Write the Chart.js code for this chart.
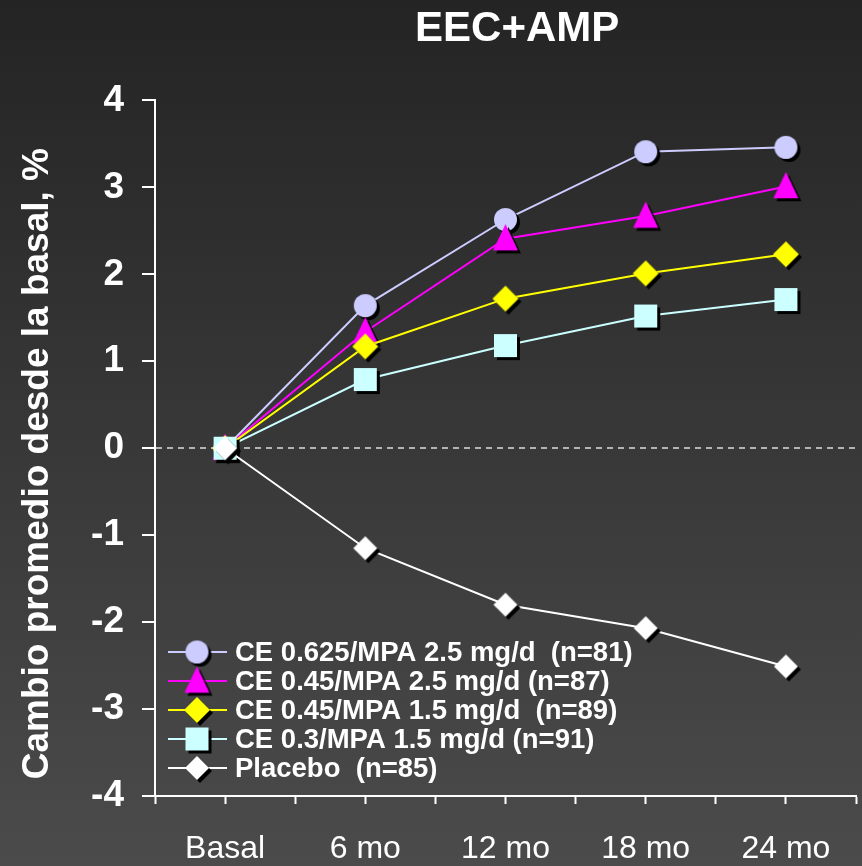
<!DOCTYPE html>
<html lang="es">
<head>
    <meta charset="UTF-8">
    <title>EEC+AMP</title>
    <script src="https://cdn.jsdelivr.net/npm/chart.js"></script>
    <style>
        html, body { margin: 0; padding: 0; background: #2e2e2e; }
        #wrap { width: 862px; height: 866px; }
    </style>
</head>
<body>
    <div id="wrap"><canvas id="grafico"></canvas></div>

    <script>
        // Datos
        const categorias = ['Basal', '6 mo', '12 mo', '18 mo', '24 mo'];
        const nombres = [
            'CE 0.625/MPA 2.5 mg/d  (n=81)',
            'CE 0.45/MPA 2.5 mg/d (n=87)',
            'CE 0.45/MPA 1.5 mg/d  (n=89)',
            'CE 0.3/MPA 1.5 mg/d (n=91)',
            'Placebo  (n=85)'
        ];
        const ce0625_25 = [0, 1.64, 2.63, 3.41, 3.46];
        const ce045_25 = [0, 1.34, 2.41, 2.67, 3.01];
        const ce045_15 = [0, 1.17, 1.72, 2.01, 2.23];
        const ce03_15 = [0, 0.79, 1.18, 1.52, 1.71];
        const placebo = [0, -1.15, -1.80, -2.07, -2.51];
        const yMin = -4, yMax = 4;

        const colores = ['#ccccff', '#ff00ff', '#ffff00', '#ccffff', '#ffffff'];
        const formas = ['circle', 'triangle', 'diamond', 'square', 'diamond'];
        const radios = [11.5, 12.5, 13, 11.5, 12];
        const series = [ce0625_25, ce045_25, ce045_15, ce03_15, placebo];

        // marcador con sombra negra
        function trazar(ctx, forma, x, y, r, color) {
            ctx.fillStyle = color;
            ctx.beginPath();
            if (forma === 'circle') {
                ctx.arc(x, y, r, 0, Math.PI * 2);
            } else if (forma === 'triangle') {
                const h = r * 2.1;
                ctx.moveTo(x, y - h * 0.55);
                ctx.lineTo(x + r, y + h * 0.45);
                ctx.lineTo(x - r, y + h * 0.45);
                ctx.closePath();
            } else if (forma === 'diamond') {
                ctx.moveTo(x, y - r);
                ctx.lineTo(x + r, y);
                ctx.lineTo(x, y + r);
                ctx.lineTo(x - r, y);
                ctx.closePath();
            } else {
                ctx.rect(x - r, y - r, r * 2, r * 2);
            }
            ctx.fill();
        }

        function marcador(forma, color, r) {
            const off = 3;
            const size = Math.ceil(2 * (r + off + 4));
            const c = document.createElement('canvas');
            c.width = size; c.height = size;
            const ctx = c.getContext('2d');
            const m = size / 2;
            trazar(ctx, forma, m + off, m + off, r, '#000000');
            trazar(ctx, forma, m, m, r, color);
            return c;
        }

        const imagenes = formas.map((f, i) => marcador(f, colores[i], radios[i]));

        const datasets = series.map((valores, i) => ({
            label: nombres[i],
            data: valores.map((v, j) => ({ x: 2 * j + 1, y: v })),
            borderColor: colores[i],
            borderWidth: 2,
            pointStyle: imagenes[i],
            fill: false,
            tension: 0,
            order: series.length - 1 - i
        }));

        const fondo = {
            id: 'fondo',
            beforeDraw(chart) {
                const ctx = chart.ctx;
                const g = ctx.createLinearGradient(0, 0, 0, chart.height);
                g.addColorStop(0, '#242424');
                g.addColorStop(1, '#4b4b4b');
                ctx.save();
                ctx.fillStyle = g;
                ctx.fillRect(0, 0, chart.width, chart.height);
                ctx.restore();
            }
        };

        const leyenda = {
            id: 'leyenda',
            afterDraw(chart) {
                const ctx = chart.ctx;
                const area = chart.chartArea;
                const x0 = area.left + 13;
                const y0 = area.bottom - 144;
                ctx.save();
                ctx.font = 'bold 27.5px "Liberation Sans", Arial, sans-serif';
                ctx.textBaseline = 'middle';
                nombres.forEach((n, i) => {
                    const y = y0 + i * 29;
                    ctx.strokeStyle = colores[i];
                    ctx.lineWidth = 2;
                    ctx.beginPath();
                    ctx.moveTo(x0, y);
                    ctx.lineTo(x0 + 59, y);
                    ctx.stroke();
                    const img = imagenes[i];
                    ctx.drawImage(img, x0 + 29 - img.width / 2, y - img.height / 2);
                    ctx.fillStyle = '#ffffff';
                    ctx.fillText(n, x0 + 67, y + 1);
                });
                ctx.restore();
            }
        };

        new Chart(document.getElementById('grafico'), {
            type: 'line',
            data: { datasets: datasets },
            plugins: [fondo, leyenda],
            options: {
                responsive: true,
                maintainAspectRatio: false,
                animation: false,
                layout: { padding: { right: 2 } },
                plugins: {
                    legend: { display: false },
                    tooltip: { enabled: false },
                    title: {
                        display: true,
                        text: '  EEC+AMP',
                        fullSize: false,
                        color: '#ffffff',
                        font: { family: '"Liberation Sans", Arial, sans-serif', size: 42, weight: 'bold' },
                        padding: { top: 4, bottom: 46 }
                    }
                },
                scales: {
                    x: {
                        type: 'linear',
                        min: 0,
                        max: 10,
                        afterFit(scale) {
                            scale.height = 70;
                            scale.paddingLeft = 0;
                            scale.paddingRight = 0;
                        },
                        border: { color: '#ffffff', width: 2 },
                        grid: { drawOnChartArea: false, tickLength: 8, tickColor: '#ffffff', tickWidth: 2 },
                        ticks: {
                            stepSize: 1,
                            autoSkip: false,
                            maxRotation: 0,
                            color: '#ffffff',
                            padding: 26,
                            font: { family: '"Liberation Sans Narrow", "Arial Narrow", "Liberation Sans", sans-serif', size: 32 },
                            callback: (v) => (v % 2 === 1 ? categorias[(v - 1) / 2] : '')
                        }
                    },
                    y: {
                        min: yMin,
                        max: yMax,
                        afterFit(scale) { scale.width = 155; },
                        border: { color: '#ffffff', width: 2, dash: [6, 5] },
                        grid: {
                            color: (c) => (c.tick && c.tick.value === 0 ? '#b4b4b4' : 'rgba(0,0,0,0)'),
                            lineWidth: 2,
                            tickLength: 13,
                            tickColor: '#ffffff',
                            tickWidth: 2
                        },
                        ticks: {
                            stepSize: 1,
                            color: '#ffffff',
                            padding: 18,
                            font: { family: '"Liberation Sans", Arial, sans-serif', size: 37, weight: 'bold' }
                        },
                        title: {
                            display: true,
                            text: 'Cambio promedio desde la basal, %   ',
                            color: '#ffffff',
                            font: { family: '"Liberation Sans", Arial, sans-serif', size: 37, weight: 'bold' },
                            padding: { top: 16, bottom: 0 }
                        }
                    }
                }
            }
        });
    </script>
</body>
</html>
